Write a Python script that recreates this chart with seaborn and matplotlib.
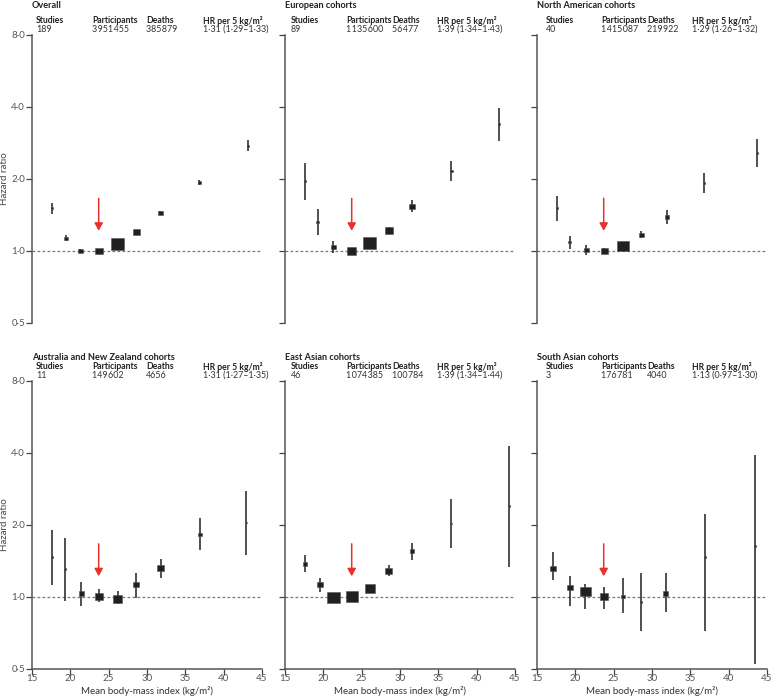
import pandas as pd
import seaborn as sns
import matplotlib.pyplot as plt
import numpy as np

# panel labels and header statistics
panel_names = ["Overall", "European cohorts", "North American cohorts",
               "Australia and New Zealand cohorts", "East Asian cohorts", "South Asian cohorts"]
studies = ["189", "89", "40", "11", "46", "3"]
participants = ["3\u200a951\u200a455", "1\u200a135\u200a600", "1\u200a415\u200a087",
                "149\u200a602", "1\u200a074\u200a385", "176\u200a781"]
deaths = ["385\u200a879", "56\u200a477", "219\u200a922", "4656", "100\u200a784", "4040"]
hr_per5 = ["1·31 (1·29–1·33)", "1·39 (1·34–1·43)", "1·29 (1·26–1·32)",
           "1·31 (1·27–1·35)", "1·39 (1·34–1·44)", "1·13 (0·97–1·30)"]

# mean BMI per group, hazard ratio, 95% CI and box weight (box area)
overall_bmi = [17.6, 19.4, 21.3, 23.7, 26.2, 28.6, 31.7, 36.8, 43.2]
overall_hr = [1.51, 1.13, 1.00, 1.00, 1.07, 1.20, 1.44, 1.93, 2.75]
overall_lo = [1.43, 1.10, 0.98, 0.98, 1.05, 1.18, 1.42, 1.88, 2.62]
overall_hi = [1.59, 1.17, 1.02, 1.02, 1.09, 1.22, 1.47, 1.99, 2.90]
overall_w = [6, 16, 25, 64, 169, 49, 25, 9, 4]

europe_bmi = [17.6, 19.3, 21.3, 23.7, 26.0, 28.5, 31.6, 36.7, 42.9]
europe_hr = [1.96, 1.32, 1.04, 1.00, 1.08, 1.22, 1.54, 2.16, 3.39]
europe_lo = [1.64, 1.17, 0.98, 0.97, 1.05, 1.18, 1.45, 1.96, 2.87]
europe_hi = [2.34, 1.50, 1.10, 1.03, 1.11, 1.26, 1.63, 2.38, 3.97]
europe_w = [5, 9, 25, 81, 169, 64, 36, 9, 4]

namerica_bmi = [17.6, 19.3, 21.4, 23.8, 26.2, 28.6, 31.9, 36.8, 43.7]
namerica_hr = [1.51, 1.09, 1.01, 1.00, 1.05, 1.17, 1.39, 1.92, 2.57]
namerica_lo = [1.34, 1.02, 0.96, 0.97, 1.02, 1.13, 1.30, 1.74, 2.25]
namerica_hi = [1.69, 1.16, 1.06, 1.03, 1.08, 1.21, 1.48, 2.12, 2.93]
namerica_w = [5, 9, 25, 49, 144, 25, 16, 5, 4]

anz_bmi = [17.6, 19.3, 21.4, 23.8, 26.2, 28.6, 31.8, 36.9, 42.9]
anz_hr = [1.46, 1.30, 1.03, 1.00, 0.98, 1.12, 1.31, 1.82, 2.04]
anz_lo = [1.12, 0.96, 0.91, 0.95, 0.93, 0.99, 1.20, 1.56, 1.49]
anz_hi = [1.90, 1.75, 1.15, 1.07, 1.05, 1.25, 1.43, 2.12, 2.77]
anz_w = [5, 4, 25, 64, 81, 36, 49, 16, 4]

eastasia_bmi = [17.6, 19.5, 21.3, 23.7, 26.1, 28.5, 31.5, 36.6, 44.2]
eastasia_hr = [1.37, 1.12, 0.99, 1.00, 1.08, 1.28, 1.55, 2.02, 2.39]
eastasia_lo = [1.26, 1.04, 0.97, 0.98, 1.05, 1.22, 1.42, 1.59, 1.33]
eastasia_hi = [1.49, 1.19, 1.01, 1.02, 1.11, 1.35, 1.67, 2.55, 4.26]
eastasia_w = [16, 36, 169, 144, 100, 49, 16, 4, 2]

southasia_bmi = [17.1, 19.3, 21.3, 23.7, 26.2, 28.6, 31.8, 36.9, 43.4]
southasia_hr = [1.31, 1.09, 1.05, 1.00, 1.00, 0.95, 1.03, 1.46, 1.63]
southasia_lo = [1.17, 0.91, 0.89, 0.89, 0.85, 0.72, 0.86, 0.72, 0.52]
southasia_hi = [1.53, 1.22, 1.13, 1.10, 1.19, 1.25, 1.25, 2.22, 3.90]
southasia_w = [36, 36, 121, 64, 16, 4, 25, 4, 4]

reference_bmi = 23.7

frames = []
for name, b, h, lo, hi, w in zip(
        panel_names,
        [overall_bmi, europe_bmi, namerica_bmi, anz_bmi, eastasia_bmi, southasia_bmi],
        [overall_hr, europe_hr, namerica_hr, anz_hr, eastasia_hr, southasia_hr],
        [overall_lo, europe_lo, namerica_lo, anz_lo, eastasia_lo, southasia_lo],
        [overall_hi, europe_hi, namerica_hi, anz_hi, eastasia_hi, southasia_hi],
        [overall_w, europe_w, namerica_w, anz_w, eastasia_w, southasia_w]):
    frames.append(pd.DataFrame({"panel": name, "bmi": b, "hr": h,
                                "lo": lo, "hi": hi, "w": w}))
data = pd.concat(frames, ignore_index=True)

sns.set_style("ticks")
plt.rcParams["font.family"] = ["Lato", "DejaVu Sans"]
ink = "#231f20"

fig = plt.figure(figsize=(7.72, 6.97), dpi=100)
W, H = 772.0, 697.0
col_left = [32, 285, 537]
row_top = [35, 380.5]
ax_w, ax_h = 230, 288
# header column offsets (pixels from spine) per column
hdr_off = [[4, 60, 114, 171], [6, 61, 107, 152], [9, 64, 110, 155]]
# vertical offsets (pixels above the 8.0 tick) for title, header, values
row_off = [[30, 14.5, 5.5], [22.5, 13.5, 5]]
wmax = data["w"].max()
rect = [(-1.15, -1), (1.15, -1), (1.15, 1), (-1.15, 1), (-1.15, -1)]

for i, name in enumerate(panel_names):
    r, c = divmod(i, 3)
    x0, y0 = col_left[c], row_top[r]
    ax = fig.add_axes([x0 / W, 1 - (y0 + ax_h) / H, ax_w / W, ax_h / H])
    d = data[data["panel"] == name]

    ax.axhline(1.0, color="#5f7f8c", lw=0.9, ls=(0, (2.2, 1.8)), zorder=1)
    ax.vlines(d["bmi"], d["lo"], d["hi"], color=ink, lw=1.1, zorder=2)
    sns.scatterplot(data=d, x="bmi", y="hr", size="w", sizes=(0, 0.5184 * wmax),
                    size_norm=(0, wmax), marker=rect, color=ink,
                    edgecolor="#555555", linewidth=0.4, legend=False, ax=ax, zorder=3)
    ax.annotate("", xy=(reference_bmi, 1.215), xytext=(reference_bmi, 1.66),
                arrowprops=dict(arrowstyle="-|>,head_length=0.45,head_width=0.25",
                                color="#e8312a", lw=1.1, shrinkA=0, shrinkB=0),
                zorder=4)

    ax.set_yscale("log", base=2)
    ax.set_ylim(0.5, 8)
    ax.set_xlim(15, 45)
    ax.set_yticks([0.5, 1, 2, 4, 8])
    ax.minorticks_off()
    if c == 0:
        ax.set_yticklabels(["0·5", "1·0", "2·0", "4·0", "8·0"])
        ax.set_ylabel("Hazard ratio", fontsize=7, color="#444444")
        ax.yaxis.set_label_coords(-0.1, 0.5)
    else:
        ax.set_yticklabels([])
        ax.set_ylabel("")
    ax.tick_params(axis="y", length=4, width=0.9, color="#444444",
                   labelsize=7, labelcolor="#555555", pad=1)
    for s in ["top", "right"]:
        ax.spines[s].set_visible(False)
    ax.spines["left"].set_color("#555555")
    ax.spines["left"].set_linewidth(1.1)
    if r == 1:
        ax.set_xticks(range(15, 50, 5))
        ax.tick_params(axis="x", length=4, width=0.9, color="#444444",
                       labelsize=7, labelcolor="#555555", pad=0)
        ax.spines["bottom"].set_color("#555555")
        ax.spines["bottom"].set_linewidth(1.1)
        ax.set_xlabel("Mean body-mass index (kg/m²)", fontsize=7, color="#333333",
                      labelpad=2)
    else:
        ax.spines["bottom"].set_visible(False)
        ax.set_xticks([])
        ax.set_xlabel("")

    # panel title and header block
    t_off, h_off, v_off = row_off[r]
    fig.text(x0 / W, 1 - (y0 - t_off) / H, name, fontsize=6.6, fontweight="bold",
             color=ink, va="center", ha="left")
    heads = ["Studies", "Participants", "Deaths", "HR per 5 kg/m²"]
    vals = [studies[i], participants[i], deaths[i], hr_per5[i]]
    for off, hd, v in zip(hdr_off[c], heads, vals):
        fig.text((x0 + off) / W, 1 - (y0 - h_off) / H, hd, fontsize=6.2,
                 fontweight="bold", color=ink, va="center", ha="left")
        fig.text((x0 + off) / W, 1 - (y0 - v_off) / H, v, fontsize=6.4,
                 color="#333333", va="center", ha="left")

fig.savefig("out.png", dpi=100)
